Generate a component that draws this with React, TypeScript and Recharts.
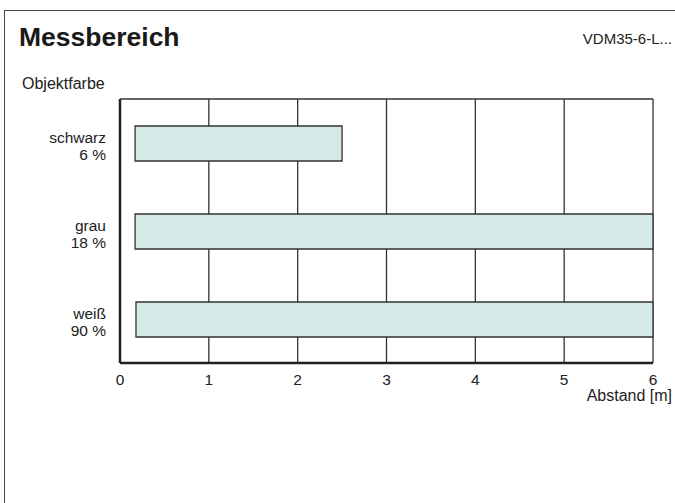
import { BarChart, Bar, XAxis, YAxis, CartesianGrid, Label } from "recharts";

const categories = ["schwarz", "grau", "weiß"];
const reflectance = ["6 %", "18 %", "90 %"];
const rangeStart = [0.17, 0.17, 0.18];
const rangeEnd = [2.5, 6, 6];
const xTicks = [0, 1, 2, 3, 4, 5, 6];

const data = categories.map((name, i) => ({
  name,
  pct: reflectance[i],
  range: [rangeStart[i], rangeEnd[i]],
}));

const FONT = '"Liberation Sans", Arial, Helvetica, sans-serif';
const INK = "#222";

// two-line category label: colour name + reflectance
function CategoryTick(props: any) {
  const { x, y, payload } = props;
  const i = categories.indexOf(payload.value);
  return (
    <g>
      <text x={x} y={y} textAnchor="end" fontSize={15.5} fill={INK} fontFamily={FONT}>
        <tspan x={x} dy={0}>{payload.value}</tspan>
        <tspan x={x} dy={17}>{reflectance[i]}</tspan>
      </text>
    </g>
  );
}

function AxisTitle(props: any) {
  const vb = props.viewBox;
  return (
    <text x={vb.x + vb.width + 19} y={vb.y + 38} textAnchor="end" fontSize={16} fill={INK} fontFamily={FONT}>
      Abstand [m]
    </text>
  );
}

export default function App() {
  return (
    <div style={{ position: "absolute", left: 0, top: 0, width: 675, height: 503, background: "#fff", fontFamily: FONT, overflow: "hidden" }}>
      <div style={{ position: "absolute", left: 4, top: 10, width: 700, height: 520, borderTop: "1.5px solid #444", borderLeft: "1.5px solid #444" }} />
      <div style={{ position: "absolute", left: 19, top: 24, fontSize: 26.5, lineHeight: "26px", fontWeight: "bold", color: "#1a1a1a", whiteSpace: "nowrap" }}>
        Messbereich
      </div>
      <div style={{ position: "absolute", right: 3, top: 30.5, fontSize: 15, lineHeight: "15px", color: INK, whiteSpace: "nowrap" }}>
        VDM35-6-L...
      </div>
      <div style={{ position: "absolute", left: 22, top: 76, fontSize: 16, lineHeight: "16px", color: INK, whiteSpace: "nowrap" }}>
        Objektfarbe
      </div>
      <div style={{ position: "absolute", left: 0, top: 0 }}>
        <BarChart
          width={675}
          height={503}
          data={data}
          layout="vertical"
          margin={{ top: 99, right: 22, bottom: 90, left: 10 }}
          barCategoryGap={0}
        >
          <CartesianGrid
            stroke="#333"
            strokeWidth={1.3}
            horizontalCoordinatesGenerator={({ offset }: any) => [offset.top]}
          />
          <XAxis
            type="number"
            domain={[0, 6]}
            ticks={xTicks}
            height={50}
            tickLine={false}
            tickMargin={5}
            axisLine={{ stroke: INK, strokeWidth: 2.5 }}
            tick={{ fontSize: 15.5, fill: INK, fontFamily: FONT }}
          >
            <Label content={AxisTitle} />
          </XAxis>
          <YAxis
            type="category"
            dataKey="name"
            width={110}
            tickLine={false}
            tickSize={0}
            tickMargin={14}
            axisLine={{ stroke: INK, strokeWidth: 2.5 }}
            tick={<CategoryTick />}
          />
          <Bar dataKey="range" fill="#d5eae7" stroke="#333" strokeWidth={1.3} barSize={35} isAnimationActive={false} />
        </BarChart>
      </div>
    </div>
  );
}
